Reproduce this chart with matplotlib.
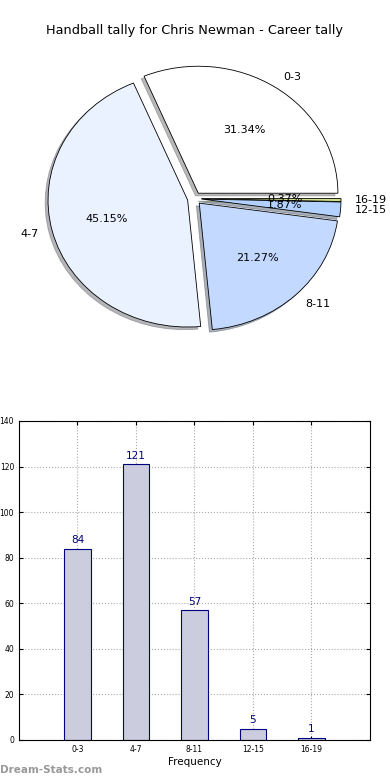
import numpy as np
import matplotlib
matplotlib.use('Agg')
import matplotlib.pyplot as plt

# Data
labels = ['0-3', '4-7', '8-11', '12-15', '16-19']
counts = [84, 121, 57, 5, 1]
pie_colors = ['#ffffff', '#eaf1ff', '#c4d9ff', '#b2d1ff', '#cde08a']
title = 'Handball tally for Chris Newman - Career tally'

fig = plt.figure(figsize=(3.9, 7.8), dpi=100)

# Pie chart (stretched, like old matplotlib without equal aspect)
ax1 = fig.add_axes([0.051, 0.542, 0.895, 0.407])
wedges, texts, autotexts = ax1.pie(counts, labels=labels, colors=pie_colors,
                                   explode=[0.05] * len(counts),
                                   shadow={'ox': -0.015, 'oy': -0.015, 'shade': 0.55},
                                   autopct='%.2f%%',
                                   wedgeprops={'edgecolor': 'black', 'linewidth': 0.6},
                                   textprops={'fontsize': 8})
ax1.set_aspect('auto')
fig.text(0.5, 0.961, title, ha='center', va='center', fontsize=9.3)

# Bar chart
ax2 = fig.add_axes([0.0487, 0.0513, 0.9, 0.409])
x = np.arange(len(counts))
bars = ax2.bar(x, counts, width=0.45, color='#ccccdf', edgecolor='#000080', linewidth=0.8, zorder=2)
for xi, c in zip(x, counts):
    ax2.text(xi, c + 1.5, str(c), ha='center', va='bottom', color='#000080', fontsize=7.5)
ax2.set_xlim(-1, 5)
ax2.set_ylim(0, 140)
ax2.set_yticks(range(0, 141, 20))
ax2.set_xticks(x)
ax2.set_xticklabels(labels)
ax2.tick_params(labelsize=5.5, direction='in', top=True, right=True, length=3)
ax2.grid(True, linestyle=':', color='#aaaaaa', linewidth=0.8, zorder=0)
ax2.set_axisbelow(True)
ax2.set_xlabel('Frequency', fontsize=7.5, labelpad=2)

fig.text(0.0, 0.013, 'Dream-Stats.com', color='#999999', fontsize=7.5, fontweight='bold',
         ha='left', va='center')

fig.savefig('out.png', dpi=100)
